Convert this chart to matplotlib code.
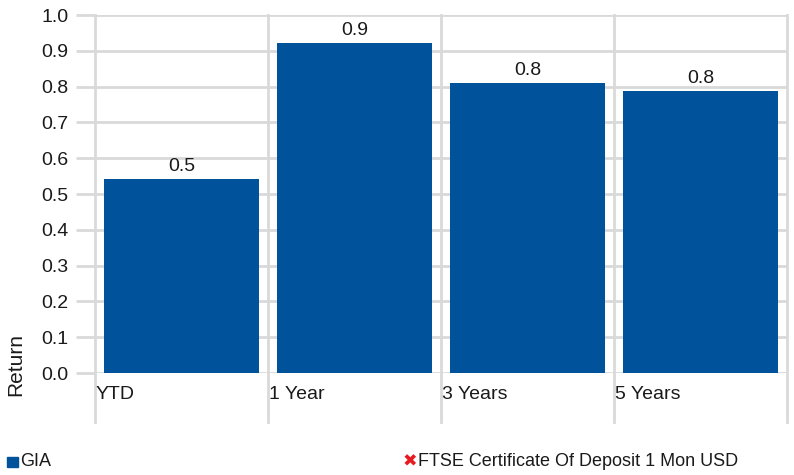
import matplotlib.pyplot as plt
from matplotlib.patches import Rectangle

plt.rcParams['font.family'] = ['Liberation Sans', 'DejaVu Sans']

categories = ['YTD', '1 Year', '3 Years', '5 Years']
gia = [0.542, 0.922, 0.81, 0.788]
yticks = [0.0, 0.1, 0.2, 0.3, 0.4, 0.5, 0.6, 0.7, 0.8, 0.9, 1.0]

bar_color = '#00529b'
grid_color = '#d9d9d9'
text_color = '#1a1a1a'

fig = plt.figure(figsize=(7.94, 4.75), dpi=100)
ax = fig.add_axes([95 / 794, 1 - 373 / 475, 692 / 794, 358 / 475])

xs = [i + 0.5 for i in range(len(categories))]
bars = ax.bar(xs, gia, width=0.9, color=bar_color, zorder=3)
for b, v in zip(bars, gia):
    ax.text(b.get_x() + b.get_width() / 2, v + 0.01, '%.1f' % v,
            ha='center', va='bottom', fontsize=14, color=text_color)

ax.set_xlim(0, len(categories))
ax.set_ylim(0, 1.0)
ax.set_yticks(yticks)
ax.set_yticklabels(['%.1f' % t for t in yticks], fontsize=14, color=text_color)
ax.tick_params(axis='y', length=14, width=2, color=grid_color, pad=5)
ax.set_xticks([])

# horizontal grid
for t in yticks:
    ax.axhline(t, color=grid_color, lw=2, zorder=1)
# category boundaries, running below the axis
for i in range(len(categories) + 1):
    ax.plot([i, i], [-0.137, 1], transform=ax.get_xaxis_transform(), color=grid_color,
            lw=2, clip_on=False, zorder=1)
for i, c in enumerate(categories):
    ax.text(i + 0.005, -0.061, c, transform=ax.get_xaxis_transform(),
            ha='left', va='center', fontsize=14, color=text_color)

for s in ax.spines.values():
    s.set_visible(False)

fig.text(16 / 794, 1 - 364 / 475, 'Return', rotation=90, ha='center', va='center',
         fontsize=15, color=text_color)

# legend
fig.patches.append(Rectangle((7 / 794, 1 - 467 / 475), 11 / 794, 10 / 475,
                             transform=fig.transFigure, color=bar_color))
fig.text(20 / 794, 1 - 462 / 475, 'GIA', fontsize=13, ha='left', va='center',
         color=text_color)
fig.text(403 / 794, 1 - 462 / 475, '\u2716', color='#e8191f', fontsize=12.5,
         ha='left', va='center', family=['DejaVu Sans'])
fig.text(418 / 794, 1 - 462 / 475, 'FTSE Certificate Of Deposit 1 Mon USD',
         fontsize=13, ha='left', va='center', color=text_color)

fig.savefig('out.png', dpi=100)
